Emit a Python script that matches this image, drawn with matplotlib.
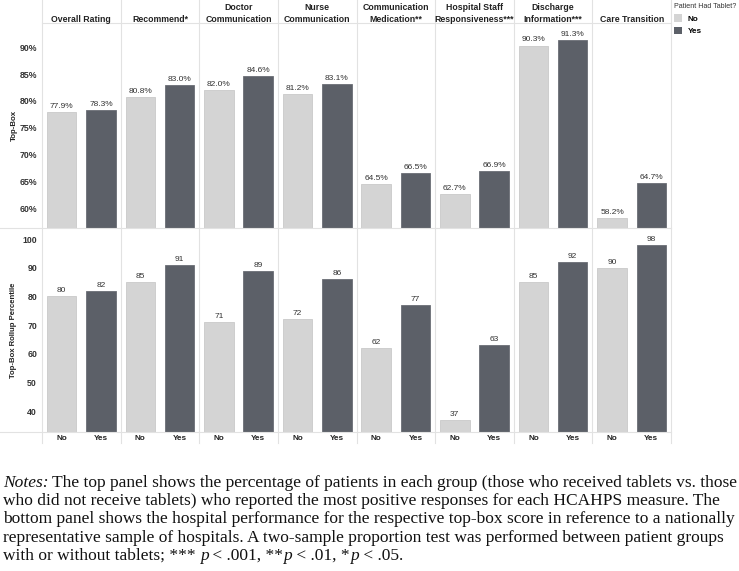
import matplotlib
matplotlib.use("Agg")
import matplotlib.pyplot as plt
from matplotlib.patches import Patch
from matplotlib.lines import Line2D
from matplotlib.transforms import blended_transform_factory
import numpy as np

measures = ["Overall Rating", "Recommend*", "Doctor\nCommunication", "Nurse\nCommunication",
            "Communication\nMedication**", "Hospital Staff\nResponsiveness***",
            "Discharge\nInformation***", "Care Transition"]
groups = ["No", "Yes"]
topbox_no = [77.9, 80.8, 82.0, 81.2, 64.5, 62.7, 90.3, 58.2]
topbox_yes = [78.3, 83.0, 84.6, 83.1, 66.5, 66.9, 91.3, 64.7]
pct_no = [80, 85, 71, 72, 62, 37, 85, 90]
pct_yes = [82, 91, 89, 86, 77, 63, 92, 98]
top_ticks = [60, 65, 70, 75, 80, 85, 90]
bot_ticks = [40, 50, 60, 70, 80, 90, 100]

W, H = 739, 571
DPI = 100
fig = plt.figure(figsize=(W / DPI, H / DPI), dpi=DPI)
plt.rcParams['font.family'] = ['Liberation Sans', 'DejaVu Sans']

C_NO = "#d4d4d4"
C_YES = "#5c6068"
SEP = "#e2e2e2"
TXT = "#333333"

def fx(px):
    return px / W

def fy(py):
    return 1 - py / H

L, R = 42, 671
ax_top = fig.add_axes([fx(L), fy(227.7), fx(R) - fx(L), fy(23) - fy(227.7)])
ax_bot = fig.add_axes([fx(L), fy(431.7), fx(R) - fx(L), fy(227.7) - fy(431.7)])

n = len(measures)
x_no = np.arange(n) * 2 + 0.5
x_yes = np.arange(n) * 2 + 1.5
bw = 0.75

for ax, vno, vyes, ticks, ylim, fmt in [
        (ax_top, topbox_no, topbox_yes, top_ticks, (56.4, 94.5), "{:.1f}%"),
        (ax_bot, pct_no, pct_yes, bot_ticks, (32.8, 104.0), "{:d}")]:
    b1 = ax.bar(x_no, vno, width=bw, color=C_NO, edgecolor="#c9c9c9", linewidth=0.6, zorder=2)
    b2 = ax.bar(x_yes, vyes, width=bw, color=C_YES, edgecolor="#6b6e75", linewidth=0.6, zorder=2)
    for bars, vals in [(b1, vno), (b2, vyes)]:
        for b, v in zip(bars, vals):
            ax.annotate(fmt.format(v), (b.get_x() + b.get_width() / 2, v),
                        xytext=(0, 1.5), textcoords="offset points",
                        ha="center", va="bottom", fontsize=6.0, color=TXT)
    ax.set_xlim(0, 2 * n)
    ax.set_ylim(*ylim)
    ax.set_yticks(ticks)
    for s in ax.spines.values():
        s.set_visible(False)
    ax.tick_params(axis="y", length=0, pad=3.6, labelsize=6.3, labelcolor=TXT)
    for t in ax.get_yticklabels():
        t.set_fontweight("bold")
    ax.set_xticks([])
    ax.patch.set_alpha(0)

ax_top.set_yticklabels([f"{t}%" for t in top_ticks])

# x labels No/Yes
trans_x = blended_transform_factory(ax_bot.transData, fig.transFigure)
for i in range(n):
    for xx, g in [(x_no[i], groups[0]), (x_yes[i], groups[1])]:
        fig.text(xx, fy(438), g, transform=trans_x, ha="center", va="center",
                 fontsize=5.9, fontweight="bold", color="#222222")

# headers
for i, m in enumerate(measures):
    fig.text(2 * i + 1, fy(23.5), m, transform=trans_x, ha="center", va="bottom",
             fontsize=6.3, fontweight="bold", color="#222222", linespacing=1.3)

# separators
for i in range(n + 1):
    fig.add_artist(Line2D([2 * i, 2 * i], [fy(0), fy(443)], transform=trans_x,
                          color=SEP, lw=0.8, zorder=0))
fig.add_artist(Line2D([0, 2 * n], [fy(23), fy(23)], transform=trans_x, color=SEP, lw=0.8))
for yy in [227.7, 431.7]:
    fig.add_artist(Line2D([0, fx(R)], [fy(yy), fy(yy)], transform=fig.transFigure,
                          color=SEP, lw=0.8))

# y labels
fig.text(fx(14), fy(125), "Top-Box", rotation=90, ha="center", va="center",
         fontsize=5.7, fontweight="bold", color="#222222")
fig.text(fx(14), fy(330), "Top-Box Rollup Percentile", rotation=90, ha="center", va="center",
         fontsize=5.6, fontweight="bold", color="#222222")

# legend
handles = [Patch(facecolor=C_NO, edgecolor="none"), Patch(facecolor=C_YES, edgecolor="none")]
leg = fig.legend(handles, groups, loc="upper left", bbox_to_anchor=(fx(673.5), fy(3.5)),
                 frameon=False, title="Patient Had Tablet?", title_fontsize=5.1,
                 prop={"weight": "bold", "size": 5.9}, handlelength=1.0, handleheight=1.1,
                 handletextpad=0.7, labelspacing=0.45, borderpad=0, borderaxespad=0,
                 alignment="left")
leg.get_title().set_color("#333333")

# notes
serif = ["Liberation Serif", "DejaVu Serif"]
note_lines = [
    [("Notes:", "italic"), (" The top panel shows the percentage of patients in each group (those who received tablets vs. those", "normal")],
    [("who did not receive tablets) who reported the most positive responses for each HCAHPS measure. The", "normal")],
    [("bottom panel shows the hospital performance for the respective top-box score in reference to a nationally", "normal")],
    [("representative sample of hospitals. A two-sample proportion test was performed between patient groups", "normal")],
    [("with or without tablets; *** ", "normal"), ("p", "italic"), (" < .001, **", "normal"), ("p", "italic"),
     (" < .01, *", "normal"), ("p", "italic"), (" < .05.", "normal")],
]
fig.canvas.draw()
renderer = fig.canvas.get_renderer()
y0 = 487.0
dy = 18.2
for li, parts in enumerate(note_lines):
    xpix = 2.7
    for txt, style in parts:
        t = fig.text(fx(xpix), fy(y0 + li * dy), txt, family=serif, style=style,
                     fontsize=12.55, ha="left", va="baseline", color="#111111")
        bb = t.get_window_extent(renderer=renderer)
        xpix += bb.width

fig.savefig("out.png", dpi=DPI)
